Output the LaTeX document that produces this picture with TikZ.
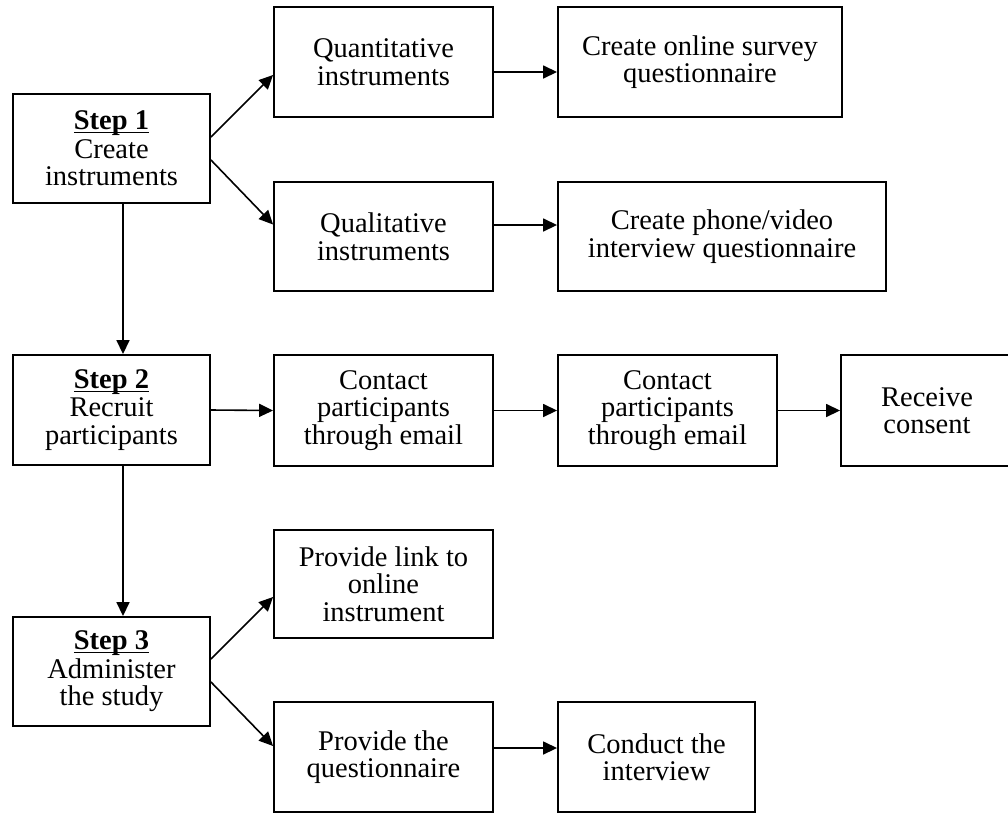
\documentclass[tikz,border=0pt]{standalone}
\usepackage{fontspec}
\setmainfont{Liberation Serif}
\usetikzlibrary{arrows.meta}

\newcommand{\steptitle}[1]{\underline{\smash{\textbf{#1}}\rule[-1pt]{0pt}{20pt}}}

\begin{document}
\begin{tikzpicture}[
      x=1pt, y=-1pt,
      box/.style={draw, line width=1.9pt, align=center, inner sep=2pt,
        minimum width=219pt, minimum height=110pt,
        font=\fontsize{28.5}{27.5}\selectfont},
      arr/.style={line width=1.6pt, -{Triangle[length=14pt, width=13pt]}},
    ]
      \useasboundingbox (0,0) rectangle (1008,812);
      \clip (0,0) rectangle (1008,812);

      % step 1
      \node[box, minimum width=197pt, minimum height=109pt] (step1) at (111.5,148.5)
        {\steptitle{Step 1}\\[1pt]Create\\instruments};
      \node[box] (quant) at (383.5,62) {Quantitative\\instruments};
      \node[box, minimum width=284pt] (online) at (700,62) {Create online survey\\questionnaire};
      \node[box, minimum height=109pt] (qual) at (383.5,236.5) {Qualitative\\instruments};
      \node[box, minimum width=328pt, minimum height=109pt] (phone) at (722,236.5)
        {Create phone/video\\interview questionnaire};

      % step 2
      \node[box, minimum width=197pt] (step2) at (111.5,410)
        {\steptitle{Step 2}\\[1pt]Recruit\\participants};
      \node[box, minimum height=111pt] (contact1) at (383.5,410.5) {Contact\\participants\\through email};
      \node[box, minimum height=111pt] (contact2) at (667.5,410.5) {Contact\\participants\\through email};
      \node[box, minimum width=172pt, minimum height=111pt] (consent) at (927,410.5) {Receive\\consent};

      % step 3
      \node[box, minimum width=197pt, minimum height=109pt] (step3) at (111.5,671.5)
        {\steptitle{Step 3}\\[1pt]Administer\\the study};
      \node[box, minimum height=108pt] (link) at (383.5,584) {Provide link to\\online\\instrument};
      \node[box] (provq) at (383.5,757) {Provide the\\questionnaire};
      \node[box, minimum width=197pt] (conduct) at (656.5,757) {Conduct the\\interview};

      \draw[arr] ([yshift=11.5pt]step1.east) -- ([yshift=-13pt]quant.west);
      \draw[arr] ([yshift=-11.5pt]step1.east) -- ([yshift=12pt]qual.west);
      \draw[arr] ([yshift=-10pt]quant.east) -- ([yshift=-10pt]online.west);
      \draw[arr] ([yshift=11.5pt]qual.east) -- ([yshift=11.5pt]phone.west);
      \draw[arr] ([xshift=11.5pt]step1.south) -- ([xshift=11.5pt]step2.north);

      \draw[arr] (step2.east) -- (contact1.west);
      \draw[arr] (contact1.east) -- (contact2.west);
      \draw[arr] (contact2.east) -- (consent.west);
      \draw[arr] ([xshift=11.5pt]step2.south) -- ([xshift=11.5pt]step3.north);

      \draw[arr] ([yshift=12.5pt]step3.east) -- ([yshift=-13pt]link.west);
      \draw[arr] ([yshift=-10.5pt]step3.east) -- ([yshift=11pt]provq.west);
      \draw[arr] ([yshift=9pt]provq.east) -- ([yshift=9pt]conduct.west);
    \end{tikzpicture}
\end{document}
